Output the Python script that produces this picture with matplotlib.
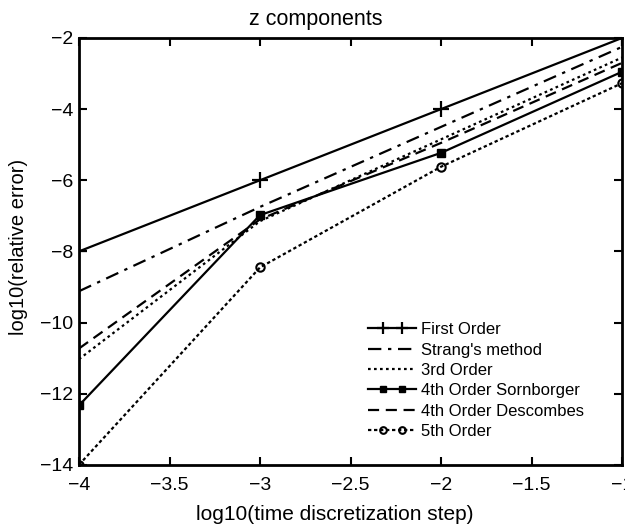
import matplotlib
matplotlib.use("Agg")
import numpy as np
import matplotlib.pyplot as plt
from matplotlib.legend_handler import HandlerLine2D

x = [-4, -3, -2, -1]
first_order = [-8.0, -6.0, -4.0, -2.0]
strang = [-9.12, -6.75, -4.5, -2.25]
third_order = [-11.03, -7.15, -4.85, -2.55]
sornborger = [-12.33, -6.98, -5.23, -2.95]
descombes = [-10.73, -7.1, -4.95, -2.7]
fifth_order = [-14.0, -8.45, -5.62, -3.27]

labels = ["First Order", "Strang's method", "3rd Order",
          "4th Order Sornborger", "4th Order Descombes", "5th Order"]

plt.rcParams['font.family'] = ['Liberation Sans', 'DejaVu Sans']


class InsetMarkerHandler(HandlerLine2D):
    """Legend line spanning the full handle with two markers inset (MATLAB style)."""
    def get_xdata(self, legend, xdescent, ydescent, width, height, fontsize):
        x0 = -xdescent
        xs = np.array([x0, x0 + 0.31 * width, x0 + 0.71 * width, x0 + width])
        return xs, xs

    def create_artists(self, *args, **kwargs):
        arts = super().create_artists(*args, **kwargs)
        for a in arts:
            a.set_markevery([1, 2])
        return arts


fig = plt.figure(figsize=(6.25, 5.27), dpi=100)
ax = fig.add_axes([0.1264, 0.118, 0.869, 0.81])

lw = 1.6
ax.plot(x, first_order, color='k', lw=lw, ls='-', marker='+', ms=11, mew=1.6, label=labels[0])
ax.plot(x, strang, color='k', lw=lw, ls=(0, (6, 3, 1.5, 3)), label=labels[1])
ax.plot(x, third_order, color='k', lw=lw, ls=(0, (1.2, 1.5)), label=labels[2])
ax.plot(x, sornborger, color='k', lw=lw, ls='-', marker='s', ms=6, mfc='k', label=labels[3])
ax.plot(x, descombes, color='k', lw=lw, ls=(0, (5, 3)), label=labels[4])
ax.plot(x, fifth_order, color='k', lw=lw, ls=(0, (1.5, 1.2)), marker='o', ms=6,
        mfc='none', mew=1.5, label=labels[5])

ax.set_xlim(-4, -1)
ax.set_ylim(-14, -2)
ax.set_xticks([-4, -3.5, -3, -2.5, -2, -1.5, -1])
ax.set_xticklabels(['−4', '−3.5', '−3', '−2.5', '−2', '−1.5', '−1'])
ax.set_yticks([-14, -12, -10, -8, -6, -4, -2])
ax.set_yticklabels(['−14', '−12', '−10', '−8', '−6', '−4', '−2'])
ax.tick_params(direction='in', top=True, right=True, labelsize=14, width=1.5, length=6)
ax.tick_params(axis='x', pad=9)
ax.tick_params(axis='y', pad=4)
for s in ax.spines.values():
    s.set_linewidth(2)

ax.set_xlabel('log10(time discretization step)', fontsize=15)
ax.xaxis.set_label_coords(0.471, -0.095)
ax.set_ylabel('log10(relative error)', fontsize=14.5)
ax.yaxis.set_label_coords(-0.094, 0.51)
ax.set_title('z components', fontsize=15.5, x=0.436, pad=9)

ax.legend(loc='lower left', bbox_to_anchor=(0.52, 0.045), frameon=False, fontsize=12,
          handlelength=2.9, handletextpad=0.3, labelspacing=0.32, borderaxespad=0,
          numpoints=2, markerscale=0.8,
          handler_map={matplotlib.lines.Line2D: InsetMarkerHandler()})

fig.savefig('out.png', dpi=100)
